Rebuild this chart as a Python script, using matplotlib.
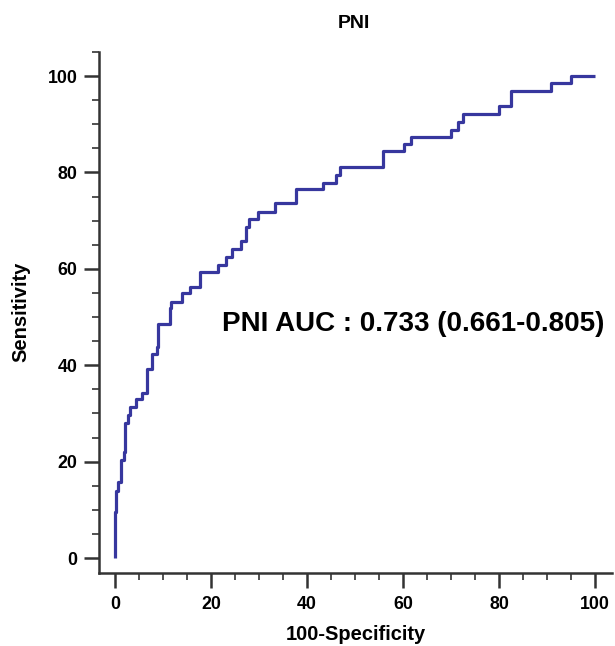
import matplotlib
matplotlib.use("Agg")
import matplotlib.pyplot as plt
from matplotlib.ticker import MultipleLocator

# ROC step points (100-Specificity, Sensitivity)
fpr = [0, 0, 0.2, 0.56, 1.25, 1.9, 2.1, 2.8, 3.1, 4.5, 5.7, 6.7, 7.7, 8.7, 8.9,
       11.4, 11.7, 14.0, 15.7, 17.7, 21.5, 23.1, 24.3, 26.3, 27.4, 27.9, 29.8,
       33.4, 37.8, 43.3, 46.1, 46.8, 55.8, 60.3, 61.7, 70.0, 71.5, 72.4, 80.0,
       82.5, 90.8, 94.9, 100]
tpr = [0, 9.5, 13.9, 15.8, 20.3, 22.0, 28.0, 29.7, 31.3, 33.0, 34.2, 39.2, 42.3,
       43.8, 48.5, 51.9, 53.2, 54.9, 56.3, 59.3, 60.9, 62.5, 64.1, 65.8, 68.6,
       70.3, 71.8, 73.6, 76.6, 77.9, 79.5, 81.2, 84.5, 85.9, 87.4, 88.8, 90.5,
       92.1, 93.8, 96.9, 98.5, 100, 100]
x_ticks = [0, 20, 40, 60, 80, 100]
y_ticks = [0, 20, 40, 60, 80, 100]
title = "PNI"
auc_text = "PNI AUC : 0.733 (0.661-0.805)"

plt.rcParams['font.family'] = ['Liberation Sans', 'DejaVu Sans']
fig = plt.figure(figsize=(6.15, 6.46), dpi=100)
ax = fig.add_axes([0.161, 0.113, 0.834, 0.8065])

ax.step(fpr, tpr, where='post', color='#37379e', lw=2.3, solid_capstyle='butt')

ax.set_xlim(-3.3, 103.5)
ax.set_ylim(-3.1, 105)
ax.set_xticks(x_ticks)
ax.set_yticks(y_ticks)
ax.xaxis.set_minor_locator(MultipleLocator(5))
ax.yaxis.set_minor_locator(MultipleLocator(5))

for s in ['top', 'right']:
    ax.spines[s].set_visible(False)
for s in ['left', 'bottom']:
    ax.spines[s].set_color('#333333')
    ax.spines[s].set_linewidth(1.8)

ax.tick_params(which='major', length=10.5, width=1.8, color='#333333',
               labelsize=12.8, pad=6)
ax.tick_params(axis='y', which='major', pad=5)
ax.tick_params(which='minor', length=5, width=1.2, color='#333333')
for lab in ax.get_xticklabels() + ax.get_yticklabels():
    lab.set_fontweight('bold')

fig.text(0.579, 1 - 634 / 646, "100-Specificity", ha='center', va='center',
         fontsize=14.5, fontweight='bold')
fig.text(0.0333, 1 - 312 / 646, "Sensitivity", ha='center', va='center',
         rotation=90, fontsize=14.5, fontweight='bold')
fig.text(354 / 615, 1 - 23 / 646, title, ha='center', va='center',
         fontsize=14, fontweight='bold')

ax.text(62.2, 48.6, auc_text, ha='center', va='center', fontsize=20, fontweight='bold')

fig.savefig("out.png", dpi=100)
